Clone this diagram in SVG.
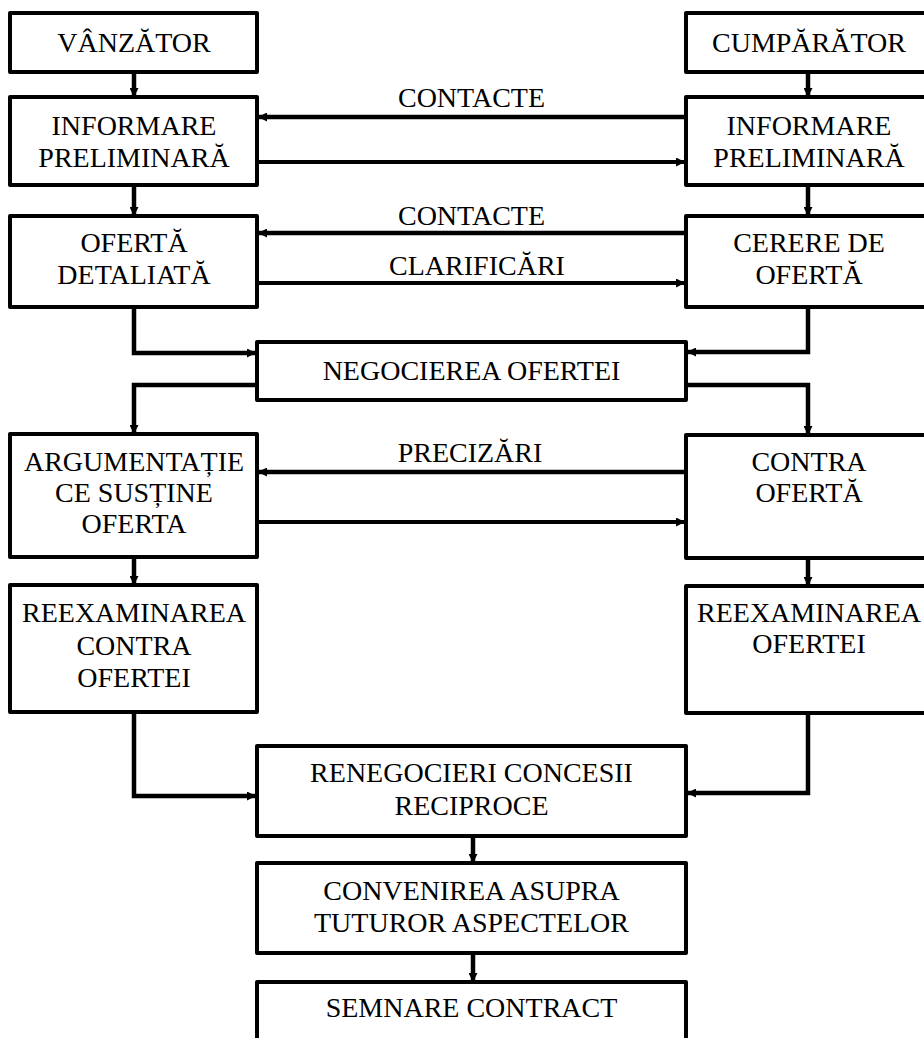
<svg xmlns="http://www.w3.org/2000/svg" width="924" height="1038" viewBox="0 0 924 1038">
<style>
.box{fill:#fff;stroke:#000;stroke-width:4;stroke-linejoin:round}
text{font-family:'Liberation Serif','Times New Roman',serif;font-size:28px;fill:#000;text-anchor:middle}
.c{fill:none;stroke:#000;stroke-width:4.5;stroke-linejoin:miter}
.c2{fill:none;stroke:#000;stroke-width:4;stroke-linejoin:miter}
</style>
<defs>
<marker id="ah" viewBox="0 0 10 10" refX="10" refY="5" markerWidth="9" markerHeight="9" markerUnits="userSpaceOnUse" orient="auto">
<path d="M0,0 L10,5 L0,10 z" fill="#000"/>
</marker>
</defs>
<rect width="924" height="1038" fill="#fff"/>
<g id="connectors">
<path class="c" d="M134 72 V97" marker-end="url(#ah)"/>
<path class="c" d="M808 72 V97" marker-end="url(#ah)"/>
<path class="c" d="M686 117 H258" marker-end="url(#ah)"/>
<path class="c2" d="M257 162 H685" marker-end="url(#ah)"/>
<path class="c" d="M134 185 V216" marker-end="url(#ah)"/>
<path class="c" d="M808 185 V216" marker-end="url(#ah)"/>
<path class="c" d="M686 233 H258" marker-end="url(#ah)"/>
<path class="c2" d="M257 283 H685" marker-end="url(#ah)"/>
<path class="c" d="M134 307 V353 H256" marker-end="url(#ah)"/>
<path class="c" d="M808 307 V352 H687" marker-end="url(#ah)"/>
<path class="c" d="M257 385 H134 V434" marker-end="url(#ah)"/>
<path class="c" d="M686 385 H808 V435" marker-end="url(#ah)"/>
<path class="c" d="M686 472 H258" marker-end="url(#ah)"/>
<path class="c2" d="M257 522 H685" marker-end="url(#ah)"/>
<path class="c" d="M134 557 V585" marker-end="url(#ah)"/>
<path class="c" d="M808 558 V586" marker-end="url(#ah)"/>
<path class="c" d="M134 712 V796 H256" marker-end="url(#ah)"/>
<path class="c" d="M808 713 V793 H687" marker-end="url(#ah)"/>
<path class="c" d="M473 836 V863" marker-end="url(#ah)"/>
<path class="c" d="M473 953 V982" marker-end="url(#ah)"/>
<text x="471.5" y="107">CONTACTE</text>
<text x="471.5" y="225">CONTACTE</text>
<text x="477" y="275">CLARIFICĂRI</text>
<text x="470" y="462">PRECIZĂRI</text>
</g>
<g id="vanzator"><rect class="box" x="10" y="13" width="247" height="59"/><text x="134" y="52">VÂNZĂTOR</text></g>
<g id="cumparator"><rect class="box" x="686" y="13" width="250" height="59"/><text x="809" y="52">CUMPĂRĂTOR</text></g>
<g id="info-v"><rect class="box" x="10" y="97" width="247" height="88"/><text x="134" y="135">INFORMARE</text><text x="134" y="167">PRELIMINARĂ</text></g>
<g id="info-c"><rect class="box" x="686" y="97" width="250" height="88"/><text x="809" y="135">INFORMARE</text><text x="809" y="167">PRELIMINARĂ</text></g>
<g id="oferta"><rect class="box" x="10" y="216" width="247" height="91"/><text x="134" y="252">OFERTĂ</text><text x="134" y="284">DETALIATĂ</text></g>
<g id="cerere"><rect class="box" x="686" y="216" width="250" height="91"/><text x="809" y="252">CERERE DE</text><text x="809" y="284">OFERTĂ</text></g>
<g id="negocierea"><rect class="box" x="257" y="342" width="429" height="58"/><text x="471.5" y="380">NEGOCIEREA OFERTEI</text></g>
<g id="argumentatie"><rect class="box" x="10" y="434" width="247" height="123"/><text x="134" y="471">ARGUMENTAȚIE</text><text x="134" y="502">CE SUSȚINE</text><text x="134" y="533">OFERTA</text></g>
<g id="contra-oferta"><rect class="box" x="686" y="435" width="250" height="123"/><text x="809" y="471">CONTRA</text><text x="809" y="502">OFERTĂ</text></g>
<g id="reex-v"><rect class="box" x="10" y="585" width="247" height="127"/><text x="134" y="622">REEXAMINAREA</text><text x="134" y="655">CONTRA</text><text x="134" y="687">OFERTEI</text></g>
<g id="reex-c"><rect class="box" x="686" y="586" width="250" height="127"/><text x="809" y="622">REEXAMINAREA</text><text x="809" y="653">OFERTEI</text></g>
<g id="renegocieri"><rect class="box" x="257" y="746" width="429" height="90"/><text x="471.5" y="782">RENEGOCIERI CONCESII</text><text x="471.5" y="815">RECIPROCE</text></g>
<g id="convenirea"><rect class="box" x="257" y="863" width="429" height="90"/><text x="471.5" y="900">CONVENIREA ASUPRA</text><text x="471.5" y="932">TUTUROR ASPECTELOR</text></g>
<g id="semnare"><rect class="box" x="257" y="982" width="429" height="70"/><text x="471.5" y="1017">SEMNARE CONTRACT</text></g>
</svg>
